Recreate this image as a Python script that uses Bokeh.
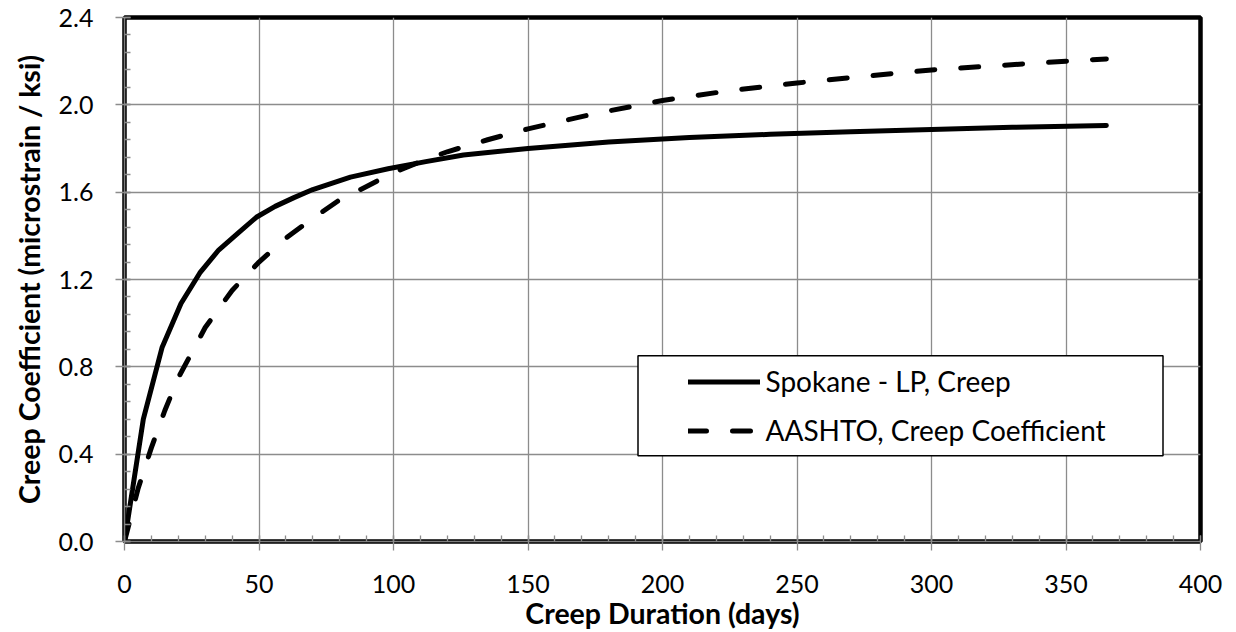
import numpy as np
from bokeh.plotting import figure
from bokeh.models import (Range1d, FixedTicker, NumeralTickFormatter, Legend,
                          LegendItem, BoxAnnotation)
from bokeh.embed import file_html
from bokeh.resources import INLINE

# ---------------- data ----------------
spokane_days = [0, 7, 14, 21, 28, 35, 42, 49, 56, 63, 70, 84, 98, 112, 126,
                150, 180, 210, 240, 270, 300, 330, 365]
spokane_creep = [0.0, 0.56, 0.89, 1.09, 1.23, 1.335, 1.41, 1.485, 1.535, 1.575,
                 1.612, 1.669, 1.707, 1.74, 1.77, 1.80, 1.83, 1.85, 1.865,
                 1.877, 1.887, 1.897, 1.905]

aashto_days = [0, 5, 10, 15, 20, 30, 40, 50, 60, 70, 80, 90, 100, 110, 120,
               135, 150, 175, 200, 225, 250, 275, 300, 325, 350, 365]
aashto_creep = [0.0, 0.24, 0.43, 0.60, 0.75, 0.98, 1.15, 1.28, 1.39, 1.48,
                1.565, 1.626, 1.69, 1.74, 1.785, 1.84, 1.89, 1.96, 2.02,
                2.065, 2.10, 2.13, 2.16, 2.18, 2.20, 2.21]

series_names = ["Spokane - LP, Creep", "AASHTO, Creep Coefficient"]
x_ticks = [0, 50, 100, 150, 200, 250, 300, 350, 400]
y_ticks = [0.0, 0.4, 0.8, 1.2, 1.6, 2.0, 2.4]
x_title = "Creep Duration (days)"
y_title = "Creep Coefficient (microstrain / ksi)"

FONT = "Lato"
GRID = "#8c8c8c"

p = figure(frame_width=1076, frame_height=524,
           min_border_left=124, min_border_right=24,
           min_border_top=17, min_border_bottom=78,
           x_range=Range1d(x_ticks[0], x_ticks[-1]),
           y_range=Range1d(y_ticks[0], y_ticks[-1]),
           output_backend="svg", toolbar_location=None)

p.background_fill_color = "white"
p.border_fill_color = "white"
p.outline_line_color = "black"
p.outline_line_width = 4.5

x_minor = np.arange(x_ticks[0], x_ticks[-1] + 0.001, 10).tolist()
y_minor = np.round(np.arange(y_ticks[0], y_ticks[-1] + 0.001, 0.08), 2).tolist()

p.xaxis.ticker = FixedTicker(ticks=x_ticks, minor_ticks=x_minor)
p.yaxis.ticker = FixedTicker(ticks=y_ticks, minor_ticks=y_minor)
p.xgrid.ticker = FixedTicker(ticks=x_ticks)
p.ygrid.ticker = FixedTicker(ticks=y_ticks)
p.yaxis.formatter = NumeralTickFormatter(format="0.0")

for g in (p.xgrid, p.ygrid):
    g.grid_line_color = GRID
    g.grid_line_width = 1.3

for ax in (p.xaxis, p.yaxis):
    ax.axis_line_color = "#7f7f7f"
    ax.axis_line_width = 1.5
    ax.major_tick_line_color = GRID
    ax.major_tick_line_width = 1.3
    ax.minor_tick_line_color = GRID
    ax.minor_tick_line_width = 1.3
    ax.major_tick_out = 9
    ax.major_tick_in = 6
    ax.minor_tick_out = 0
    ax.minor_tick_in = 6
    ax.major_label_text_font = FONT
    ax.major_label_text_font_size = "25px"
    ax.major_label_text_color = "black"
    ax.axis_label_text_font = FONT
    ax.axis_label_text_font_size = "28.5px"
    ax.axis_label_text_font_style = "bold"
    ax.axis_label_text_color = "black"

p.xaxis.axis_label = x_title
p.yaxis.axis_label = y_title
p.xaxis.major_label_standoff = 24
p.yaxis.major_label_standoff = 22
p.xaxis.axis_label_standoff = 0
p.yaxis.axis_label_standoff = 10

r1 = p.line(spokane_days, spokane_creep, line_color="black", line_width=5,
            line_join="round", line_cap="round")
r2 = p.line(aashto_days, aashto_creep, line_color="black", line_width=5,
            line_dash="18 26", line_join="round", line_cap="round")

box = BoxAnnotation(left=513.5, right=1038.5, bottom=85.7, top=185.7,
                    left_units="screen", right_units="screen",
                    top_units="screen", bottom_units="screen",
                    fill_color="white", fill_alpha=1.0,
                    line_color="black", line_width=1.5, line_alpha=1.0)
p.add_layout(box)

legend = Legend(items=[LegendItem(label=series_names[0], renderers=[r1]),
                       LegendItem(label=series_names[1], renderers=[r2])],
                location=(563.5, 93.2), padding=0, margin=0, spacing=14,
                glyph_height=35, label_height=35, glyph_width=72,
                label_standoff=6, border_line_alpha=0,
                background_fill_alpha=0,
                label_text_font=FONT, label_text_font_size="28px",
                label_text_color="black")
p.add_layout(legend)

open("out.html", "w").write(file_html(p, INLINE))
